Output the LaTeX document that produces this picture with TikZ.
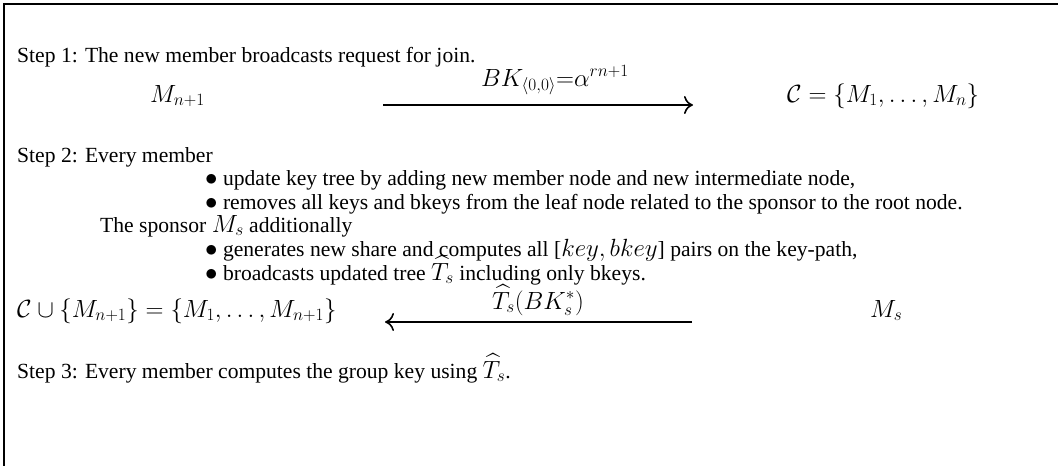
\documentclass[tikz,border=0pt]{standalone}
\usepackage{exscale}
\usepackage[no-math]{fontspec}
\setmainfont{Liberation Serif}
\usetikzlibrary{arrows.meta}
\DeclareMathSizes{21.6}{24.88}{17.28}{12}
\newcommand\bigfs{\fontsize{21.6}{24}\selectfont}
\tikzset{
  txt/.style={anchor=base west, inner sep=0pt, font=\bigfs},
  lbl/.style={anchor=base, inner sep=0pt, font=\bigfs},
  msg/.style={line width=1.6pt, -{Computer Modern Rightarrow[length=9pt,width=18pt]}},
  frame/.style={line width=2.4pt}
}
\begin{document}
\begin{tikzpicture}[x=1pt,y=-1pt]
\useasboundingbox (0,0) rectangle (1058,466);
\draw[frame] (4,466) -- (4,4) -- (1058,4);
% Step 1
\node[txt] (s1) at (17,62) {Step 1: The new member broadcasts request for join.};
\node[txt] (mn1) at (150,102) {$M_{n+1}$};
\node[txt] (cset) at (787,102) {$\mathcal{C} = \{M_1,\ldots,M_n\}$};
\coordinate (a1s) at (383,105);
\coordinate (a1e) at (693,105);
\draw[msg] (a1s) -- (a1e);
\node[lbl] (lab1) at (555,86) {$BK_{\langle 0,0\rangle}{=}\alpha^{rn+1}$};
% Step 2
\node[txt] (s2) at (17,162) {Step 2: Every member};
\node[txt] (b1) at (205,185) {$\bullet$ update key tree by adding new member node and new intermediate node,};
\node[txt] (b2) at (205,209) {$\bullet$ removes all keys and bkeys from the leaf node related to the sponsor to the root node.};
\node[txt] (sp) at (100,232) {The sponsor $M_s$ additionally};
\node[txt] (b3) at (205,256) {$\bullet$ generates new share and computes all [$key, bkey$] pairs on the key-path,};
\node[txt] (b4) at (205,280) {$\bullet$ broadcasts updated tree $\widehat{T}_s$ including only bkeys.};
\node[txt] (cu) at (17,317) {$\mathcal{C}\cup\{M_{n+1}\} = \{M_1,\ldots,M_{n+1}\}$};
\node[txt] (ms) at (870,317) {$M_s$};
\coordinate (a2s) at (692,322);
\coordinate (a2e) at (385,322);
\draw[msg] (a2s) -- (a2e);
\node[lbl] (lab2) at (538,309) {$\widehat{T}_s(BK_s^*)$};
% Step 3
\node[txt] (s3) at (17,378) {Step 3: Every member computes the group key using $\widehat{T}_s$.};
\end{tikzpicture}
\end{document}
